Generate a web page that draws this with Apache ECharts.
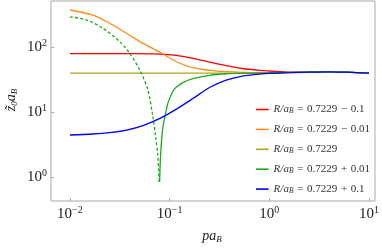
<!DOCTYPE html>
<html>
<head>
<meta charset="utf-8">
<script src="https://cdn.jsdelivr.net/npm/echarts@6/dist/echarts.min.js"></script>
<style>html,body{margin:0;padding:0;background:#fff}#c{width:382px;height:250px}</style>
</head>
<body>
<div id="c"></div>
<script>
// (p·a_B on x, z̃0·a_B on y, both log scale)
const seriesNames = ['R/a_B = 0.7229 − 0.1', 'R/a_B = 0.7229 − 0.01', 'R/a_B = 0.7229', 'R/a_B = 0.7229 + 0.01', 'R/a_B = 0.7229 + 0.1'];
const legendSuffix = ['0.7229 − 0.1', '0.7229 − 0.01', '0.7229', '0.7229 + 0.01', '0.7229 + 0.1'];

const redP = [0.01, 0.02, 0.04, 0.079, 0.117, 0.171, 0.251, 0.369, 0.537, 0.794, 1.17, 1.6, 2.5, 4, 6, 10];
const redZ = [79, 79, 79, 78, 74.5, 67, 58.7, 51.9, 46.7, 43.8, 42, 41.2, 41.3, 41.6, 41.0, 39.8];

const orangeP = [0.01, 0.017, 0.025, 0.037, 0.054, 0.079, 0.117, 0.171, 0.251, 0.369, 0.537, 1, 1.6, 2.5, 4, 6, 10];
const orangeZ = [371, 310, 232, 163, 114, 84, 59.4, 48.1, 43.8, 41.7, 40.8, 40.3, 40.6, 41.2, 41.6, 41.0, 39.8];

const oliveP = [0.01, 0.1, 1, 2.5, 4, 6, 10];
const oliveZ = [39.8, 39.8, 39.8, 40.8, 41.2, 40.7, 39.8];

const greenDashP = [0.01, 0.0148, 0.0214, 0.0316, 0.0398, 0.0501, 0.0603, 0.0676, 0.0724, 0.0759, 0.0776, 0.0785];
const greenDashZ = [292, 260, 194, 121, 80, 44.3, 22.4, 8.9, 4.2, 2.24, 1.26, 0.83];

const greenP = [0.0794, 0.0807, 0.0826, 0.0857, 0.0912, 0.0955, 0.1, 0.108, 0.117, 0.136, 0.171, 0.251, 0.369, 0.537, 1, 1.6, 2.5, 4, 6, 10];
const greenZ = [0.84, 1.83, 3.3, 5.9, 9.55, 13.3, 16.1, 21.0, 24.3, 28.3, 32.5, 36.7, 38.8, 39.3, 39.9, 40.6, 41.2, 41.6, 41.0, 39.8];

const blueP = [0.01, 0.017, 0.0251, 0.037, 0.054, 0.079, 0.117, 0.171, 0.251, 0.369, 0.537, 0.794, 1, 1.6, 2.5, 4, 6, 10];
const blueZ = [4.43, 4.59, 4.81, 5.28, 6.2, 7.9, 11.1, 16.1, 23.8, 31, 35.8, 38.4, 39.4, 40.3, 41.2, 41.6, 41.0, 39.8];

const colors = ['#ff0000', '#ff8c1a', '#aea51c', '#1aaa1a', '#0000ff'];

function pairs(P, Z) { return P.map((p, i) => [p, Z[i]]); }

const serif = 'Liberation Serif';
const tickRich = {
  b: { fontFamily: serif, fontSize: 15, color: '#222', lineHeight: 18 },
  s: { fontFamily: serif, fontSize: 10, color: '#222', lineHeight: 8, verticalAlign: 'top' }
};
function powLabel(v) {
  const e = Math.round(Math.log10(v));
  return '{b|10}{s|' + (e < 0 ? '−' : '') + Math.abs(e) + '}';
}

const chart = echarts.init(document.getElementById('c'), null, { renderer: 'canvas' });

function mkSeries(name, P, Z, color, dashed) {
  return {
    name: name, type: 'line', data: pairs(P, Z), showSymbol: false, symbol: 'none',
    smooth: 0.3, clip: true,
    lineStyle: { color: color, width: 1.3, type: dashed ? [3, 2.2] : 'solid' },
    itemStyle: { color: color }, emphasis: { disabled: true }, animation: false
  };
}

const legendRich = {
  i: { fontFamily: serif, fontStyle: 'italic', fontSize: 11, color: '#333', lineHeight: 12 },
  sub: { fontFamily: serif, fontStyle: 'italic', fontSize: 7.5, color: '#333', lineHeight: 6, verticalAlign: 'bottom' },
  n: { fontFamily: serif, fontSize: 11, color: '#333', lineHeight: 12 }
};
const sp = '\u2004';

const axisCommon = {
  type: 'log', logBase: 10,
  axisLine: { show: false }, splitLine: { show: false }, minorTick: { show: false },
  axisTick: { show: true, inside: true, length: 3, lineStyle: { color: '#aaa' } },
  axisLabel: { formatter: powLabel, rich: tickRich, margin: 4, showMinLabel: false, showMaxLabel: false }
};

chart.setOption({
  animation: false,
  grid: { left: 51, right: 6, top: 1, bottom: 49, show: true, borderColor: '#a8a8a8', borderWidth: 1, backgroundColor: 'transparent' },
  xAxis: Object.assign({}, axisCommon, { min: Math.pow(10, -2.19), max: Math.pow(10, 1.06) }),
  yAxis: Object.assign({}, axisCommon, { min: Math.pow(10, -0.369), max: Math.pow(10, 2.708) }),
  legend: {
    data: seriesNames, orient: 'vertical', left: 251, top: 99,
    icon: 'rect', itemWidth: 12.6, itemHeight: 1.6, itemGap: 8.4,
    formatter: function (name) { return '{i|R/a}{sub|B}{n|' + sp + '=' + sp + legendSuffix[seriesNames.indexOf(name)].replace(/ /g, sp) + '}'; },
    textStyle: { rich: legendRich }
  },
  graphic: [
    { type: 'text', x: 11, y: 100, rotation: Math.PI / 2,
      style: { text: '{i|z̃}{s|0}{i|a}{s|B}', align: 'center', verticalAlign: 'middle',
        rich: { i: { fontFamily: serif, fontStyle: 'italic', fontSize: 14, fill: '#222', lineHeight: 16 },
                s: { fontFamily: serif, fontStyle: 'italic', fontSize: 9, fill: '#222', lineHeight: 8, verticalAlign: 'bottom' } } } },
    { type: 'text', x: 212, y: 236,
      style: { text: '{i|pa}{s|B}', align: 'center', verticalAlign: 'middle',
        rich: { i: { fontFamily: serif, fontStyle: 'italic', fontSize: 14, fill: '#222', lineHeight: 16 },
                s: { fontFamily: serif, fontStyle: 'italic', fontSize: 9, fill: '#222', lineHeight: 8, verticalAlign: 'bottom' } } } }
  ],
  series: [
    mkSeries(seriesNames[0], redP, redZ, colors[0], false),
    mkSeries(seriesNames[1], orangeP, orangeZ, colors[1], false),
    mkSeries(seriesNames[2], oliveP, oliveZ, colors[2], false),
    mkSeries('dashed', greenDashP, greenDashZ, colors[3], true),
    mkSeries(seriesNames[3], greenP, greenZ, colors[3], false),
    mkSeries(seriesNames[4], blueP, blueZ, colors[4], false)
  ]
});
</script>
</body>
</html>
